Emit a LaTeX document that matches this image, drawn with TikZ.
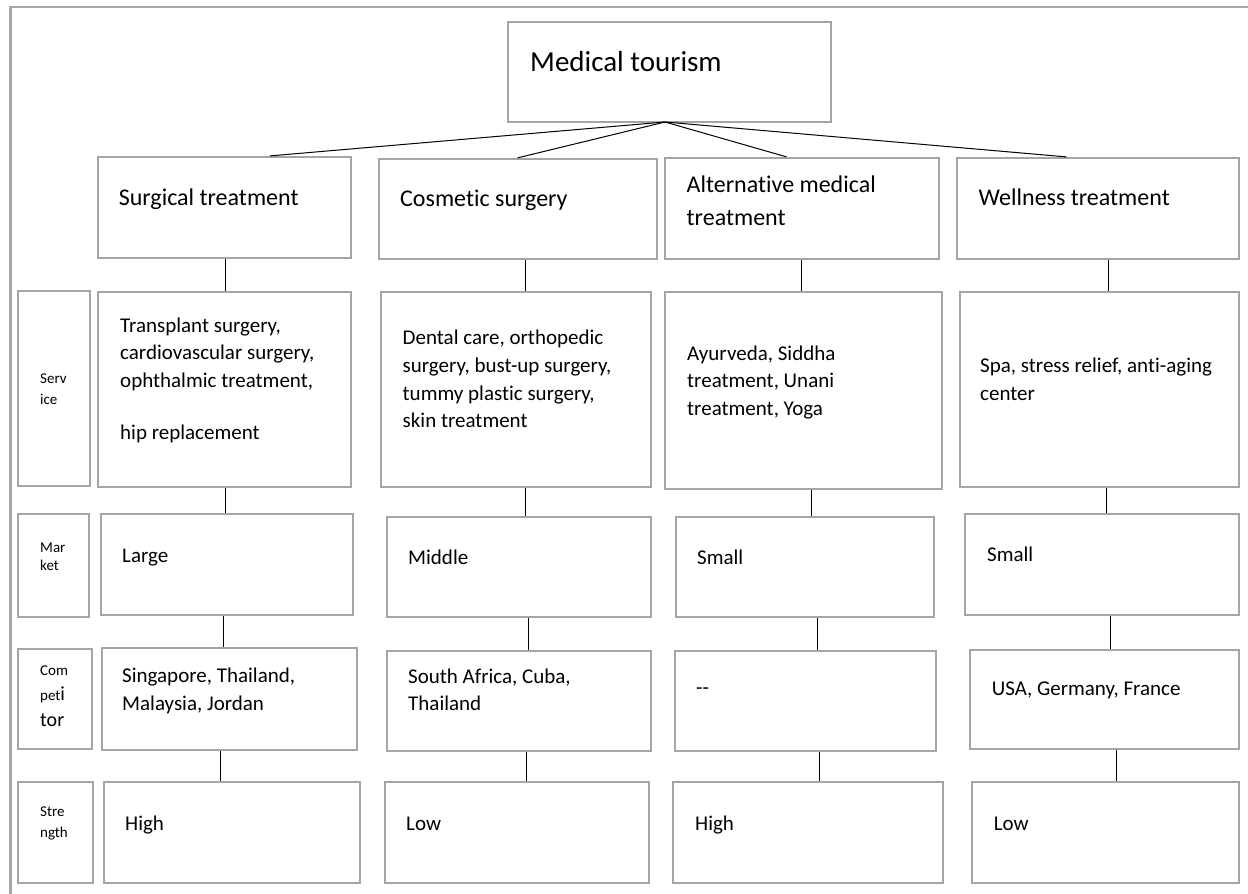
\documentclass[tikz,border=0pt]{standalone}
\usepackage{fontspec}
\setmainfont{Carlito}[Ligatures=NoCommon]
\usetikzlibrary{fit}
\definecolor{boxgray}{RGB}{165,165,165}
\newcommand\vconn[3]{\coordinate (vx) at (#3,0); \draw[conn] (#1.south -| vx) -- (#2.north -| vx);}
\newcommand\hconn[2]{\coordinate (tx) at (#2,0); \draw[conn] (hub) -- (#1.north -| tx);}
\begin{document}
\begin{tikzpicture}[x=1pt,y=-1pt,
  box/.style={draw=boxgray,line width=2.2pt,inner sep=0pt},
  frame/.style={draw=boxgray,line width=2.6pt},
  conn/.style={draw=black,line width=1pt},
  txt/.style={anchor=base west,inner sep=0pt,font=\fontsize{21}{25}\selectfont},
  cat/.style={txt,font=\fontsize{24}{29}\selectfont},
  lab/.style={txt,font=\fontsize{15}{18}\selectfont}]
\useasboundingbox (0,0) rectangle (1248,894);
\fill[white] (0,0) rectangle (1248,894);
% outer frame
\draw[frame] (10.5,894) -- (10.5,7) -- (1248,7);

% top box
\node[box,fit={(508,22)(831,122)}] (med) {};
\node[txt,font=\fontsize{29}{35}\selectfont] (tmed) at (530,71) {Medical tourism};
\coordinate (hub) at (665,122);

% category row
\node[box,fit={(98,157)(351,258)}] (c1) {};
\node[box,fit={(379,159)(657,259)}] (c2) {};
\node[box,fit={(665,158)(939,259)}] (c3) {};
\node[box,fit={(957,158)(1239,259)}] (c4) {};
\node[cat] (tc1) at (118.6,205) {Surgical treatment};
\node[cat] (tc2) at (400,206) {Cosmetic surgery};
\node[cat] (tc3a) at (686.5,192) {Alternative medical};
\node[cat] (tc3b) at (686.5,225) {treatment};
\node[cat] (tc4) at (978.5,205) {Wellness treatment};

% service row
\node[box,fit={(18,291)(90,486)}] (ls) {};
\node[box,fit={(98,292)(351,487)}] (s1) {};
\node[box,fit={(381,292)(651,487)}] (s2) {};
\node[box,fit={(665,292)(942,489)}] (s3) {};
\node[box,fit={(960,292)(1239,487)}] (s4) {};
\node[lab] (tls1) at (40,383) {Serv};
\node[lab] (tls2) at (40,404) {ice};
\node[txt] (ts1a) at (120,332) {Transplant surgery,};
\node[txt] (ts1b) at (120,359.5) {cardiovascular surgery,};
\node[txt] (ts1c) at (120,387) {ophthalmic treatment,};
\node[txt] (ts1d) at (120,439) {hip replacement};
\node[txt] (ts2a) at (402.5,344) {Dental care, orthopedic};
\node[txt] (ts2b) at (402.5,372) {surgery, bust-up surgery,};
\node[txt] (ts2c) at (402.5,400) {tummy plastic surgery,};
\node[txt] (ts2d) at (402.5,427) {skin treatment};
\node[txt] (ts3a) at (687,360) {Ayurveda, Siddha};
\node[txt] (ts3b) at (687,387) {treatment, Unani};
\node[txt] (ts3c) at (687,415) {treatment, Yoga};
\node[txt] (ts4a) at (980,372) {Spa, stress relief, anti-aging};
\node[txt] (ts4b) at (980,400) {center};

% market row
\node[box,fit={(18,514)(89,617)}] (lm) {};
\node[box,fit={(101,514)(353,615)}] (m1) {};
\node[box,fit={(387,517)(651,617)}] (m2) {};
\node[box,fit={(676,517)(934,617)}] (m3) {};
\node[box,fit={(965,514)(1239,615)}] (m4) {};
\node[lab] (tlm1) at (40,552) {Mar};
\node[lab] (tlm2) at (40,570) {ket};
\node[txt] (tm1) at (122,562) {Large};
\node[txt] (tm2) at (408,564) {Middle};
\node[txt] (tm3) at (697,564) {Small};
\node[txt] (tm4) at (987,561) {Small};

% competitor row
\node[box,fit={(18,649)(92,749)}] (lk) {};
\node[box,fit={(102,648)(357,750)}] (k1) {};
\node[box,fit={(387,651)(651,751)}] (k2) {};
\node[box,fit={(675,651)(936,751)}] (k3) {};
\node[box,fit={(970,650)(1239,749)}] (k4) {};
\node[lab] (tlk1) at (40,675) {Com};
\node[lab] (tlk2) at (40,700) {pet{\fontsize{20}{24}\selectfont i}};
\node[lab,font=\fontsize{20}{24}\selectfont] (tlk3) at (40,726) {tor};
\node[txt] (tk1a) at (122,682) {Singapore, Thailand,};
\node[txt] (tk1b) at (122,710) {Malaysia, Jordan};
\node[txt] (tk2a) at (408,683) {South Africa, Cuba,};
\node[txt] (tk2b) at (408,710) {Thailand};
\node[txt] (tk3) at (696,694) {-{}-};
\node[txt] (tk4) at (991.6,695) {USA, Germany, France};

% strength row
\node[box,fit={(18,782)(93,883)}] (lt) {};
\node[box,fit={(104,782)(360,883)}] (r1) {};
\node[box,fit={(385,782)(649,883)}] (r2) {};
\node[box,fit={(673,782)(943,883)}] (r3) {};
\node[box,fit={(972,782)(1239,883)}] (r4) {};
\node[lab] (tlt1) at (40,816) {Stre};
\node[lab] (tlt2) at (40,837) {ngth};
\node[txt] (tr1) at (125,830) {High};
\node[txt] (tr2) at (406,830) {Low};
\node[txt] (tr3) at (695,830) {High};
\node[txt] (tr4) at (993.6,830) {Low};

% connectors from top box
\hconn{c1}{270}
\hconn{c2}{517.5}
\hconn{c3}{786.6}
\hconn{c4}{1066.5}

% vertical connectors
\vconn{c1}{s1}{225}
\vconn{c2}{s2}{525}
\vconn{c3}{s3}{801}
\vconn{c4}{s4}{1108}
\vconn{s1}{m1}{225}
\vconn{s2}{m2}{525}
\vconn{s3}{m3}{811}
\vconn{s4}{m4}{1106}
\vconn{m1}{k1}{223}
\vconn{m2}{k2}{528}
\vconn{m3}{k3}{817}
\vconn{m4}{k4}{1110}
\vconn{k1}{r1}{220}
\vconn{k2}{r2}{526.5}
\vconn{k3}{r3}{819.5}
\vconn{k4}{r4}{1116}
\end{tikzpicture}
\end{document}
